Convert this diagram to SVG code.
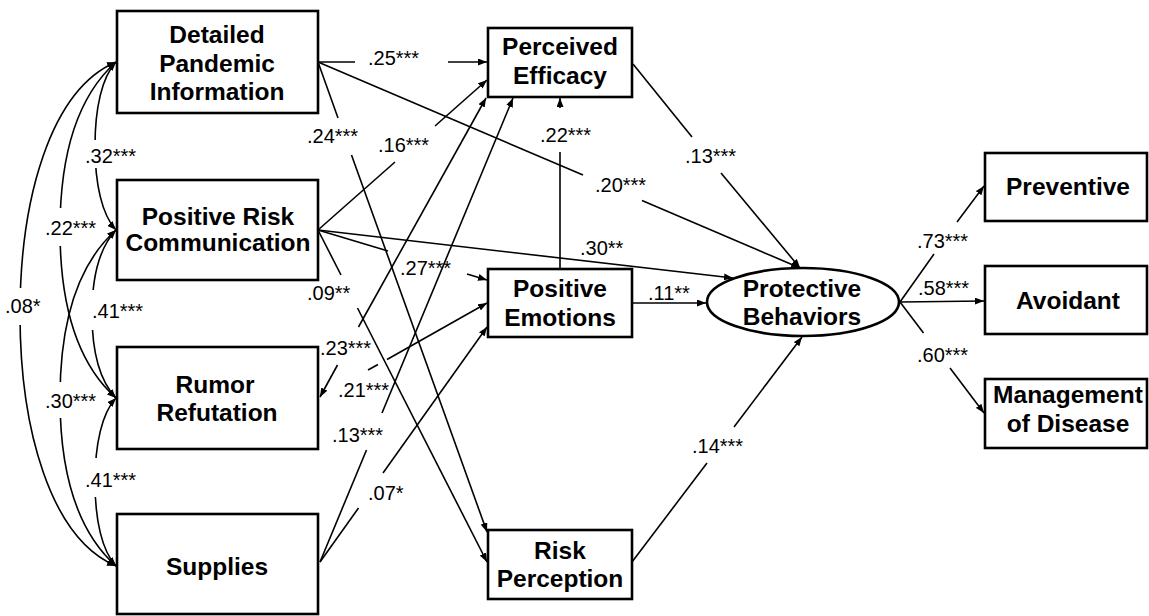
<svg xmlns="http://www.w3.org/2000/svg" width="1149" height="616" viewBox="0 0 1149 616">
<style>
.box{fill:#fff;stroke:#000;stroke-width:2.6}
.lbl{font-family:"Liberation Sans",Arial,sans-serif;font-weight:bold;font-size:24.5px;text-anchor:middle;fill:#000}
.coef{font-family:"Liberation Sans",Arial,sans-serif;font-size:20px;fill:#000}
.ln{stroke:#000;stroke-width:1.6;fill:none}
.arr{marker-end:url(#ah)}
.dbl{marker-start:url(#ahs);marker-end:url(#ah)}
.gap{fill:#fff;stroke:none}
</style>
<defs>
<marker id="ah" viewBox="0 0 9 7" refX="9" refY="3.5" markerWidth="9" markerHeight="7" markerUnits="userSpaceOnUse" orient="auto"><path d="M0,0 L9,3.5 L0,7 z" fill="#000"/></marker>
<marker id="ahs" viewBox="0 0 9 7" refX="9" refY="3.5" markerWidth="9" markerHeight="7" markerUnits="userSpaceOnUse" orient="auto-start-reverse"><path d="M0,0 L9,3.5 L0,7 z" fill="#000"/></marker>
</defs>
<rect width="1149" height="616" fill="#fff"/>
<g id="connectors">
<!-- correlation arcs -->
<path class="ln dbl" d="M116,62 C102,77 95,108 95,146 C95,184 102,215 116,230"/>
<path class="ln dbl" d="M116,62 C78,96 60,154 60,230 C60,306 78,364 116,398"/>
<path class="ln dbl" d="M116,62 C50,90 20,200 20,314 C20,428 50,538 116,566"/>
<path class="ln dbl" d="M116,230 C100,247 92,276 92,314 C92,352 100,381 116,398"/>
<path class="ln dbl" d="M116,230 C78,264 60,322 60,398 C60,474 78,532 116,566"/>
<path class="ln dbl" d="M116,398 C102,413 95,444 95,482 C95,520 102,551 116,566"/>
<rect class="gap" x="85" y="140" width="20" height="28"/>
<rect class="gap" x="50" y="208" width="22" height="38"/>
<rect class="gap" x="8" y="288" width="24" height="37"/>
<rect class="gap" x="84" y="290" width="16" height="40"/>
<rect class="gap" x="50" y="382" width="22" height="36"/>
<rect class="gap" x="86" y="458" width="18" height="39"/>
<!-- DPI paths -->
<path class="ln" d="M318,62 L355,62"/>
<path class="ln arr" d="M448,62 L487,62"/>
<path class="ln" d="M318,62 L583,175"/>
<path class="ln arr" d="M642,200.5 L800,268"/>
<path class="ln" d="M318,62 L338,118"/>
<path class="ln arr" d="M351.5,155 L487,532"/>
<!-- PRC paths -->
<path class="ln" d="M318,230 L395,162"/>
<path class="ln arr" d="M435,126 L487,80"/>
<path class="ln arr" d="M318,230 L733,278"/>
<path class="ln" d="M318,230 L388,251"/>
<path class="ln arr" d="M467,274 L487,280"/>
<path class="ln" d="M318,230 L341,275"/>
<path class="ln arr" d="M357.5,308 L487,562"/>
<!-- RR paths -->
<path class="ln arr" d="M358.5,327 L486,98"/>
<path class="ln arr" d="M337.5,365 L320,397"/>
<path class="ln" d="M368,370 L378,364.5"/>
<path class="ln arr" d="M387,359.5 L487,303"/>
<!-- Supplies paths -->
<path class="ln" d="M320,562 L366.5,450"/>
<path class="ln arr" d="M382,413 L513,98"/>
<path class="ln" d="M320,562 L358.5,508"/>
<path class="ln arr" d="M383,473 L487,327"/>
<!-- mediators to PB -->
<path class="ln" d="M633,64 L692,137"/>
<path class="ln arr" d="M721,173 L800,268"/>
<path class="ln arr" d="M632,303 L706,303"/>
<path class="ln" d="M560,269 L560,152"/>
<path class="ln arr" d="M560,108 L560,98"/>
<path class="ln" d="M632,562 L707,463"/>
<path class="ln arr" d="M734,427 L802,337"/>
<!-- PB to indicators -->
<path class="ln" d="M900,302 L934,254"/>
<path class="ln arr" d="M957,222 L984,186"/>
<path class="ln arr" d="M900,302 L984,301"/>
<path class="ln" d="M900,302 L923.5,333"/>
<path class="ln arr" d="M950,368 L984,413"/>
</g>
<g id="coefficients">
<text class="coef" x="368" y="65">.25***</text>
<text class="coef" x="307" y="143">.24***</text>
<text class="coef" x="378" y="152">.16***</text>
<text class="coef" x="540" y="142">.22***</text>
<text class="coef" x="595" y="192">.20***</text>
<text class="coef" x="580" y="255">.30**</text>
<text class="coef" x="400" y="275">.27***</text>
<text class="coef" x="307" y="300">.09**</text>
<text class="coef" x="685" y="163">.13***</text>
<text class="coef" x="648" y="300">.11**</text>
<text class="coef" x="320" y="355">.23***</text>
<text class="coef" x="338" y="397">.21***</text>
<text class="coef" x="332" y="442">.13***</text>
<text class="coef" x="368" y="500">.07*</text>
<text class="coef" x="692" y="453">.14***</text>
<text class="coef" x="917" y="248">.73***</text>
<text class="coef" x="918" y="295">.58***</text>
<text class="coef" x="917" y="362">.60***</text>
<text class="coef" x="85" y="163">.32***</text>
<text class="coef" x="45" y="235">.22***</text>
<text class="coef" x="5" y="313">.08*</text>
<text class="coef" x="92" y="318">.41***</text>
<text class="coef" x="45" y="408">.30***</text>
<text class="coef" x="85" y="487">.41***</text>
</g>
<g id="node-dpi">
<rect class="box" x="117" y="11" width="201" height="102"/>
<text class="lbl" x="217" y="43">Detailed</text>
<text class="lbl" x="217" y="71.5">Pandemic</text>
<text class="lbl" x="217" y="100">Information</text>
</g>
<g id="node-prc">
<rect class="box" x="117" y="180" width="201" height="100"/>
<text class="lbl" x="218" y="225">Positive Risk</text>
<text class="lbl" x="218" y="251">Communication</text>
</g>
<g id="node-rr">
<rect class="box" x="117" y="347" width="201" height="102"/>
<text class="lbl" x="215" y="393">Rumor</text>
<text class="lbl" x="217" y="421">Refutation</text>
</g>
<g id="node-supplies">
<rect class="box" x="117" y="514" width="201" height="100"/>
<text class="lbl" x="217" y="575">Supplies</text>
</g>
<g id="node-pe">
<rect class="box" x="488" y="28" width="144" height="69"/>
<text class="lbl" x="560" y="55">Perceived</text>
<text class="lbl" x="560" y="84">Efficacy</text>
</g>
<g id="node-pem">
<rect class="box" x="488" y="269" width="144" height="68"/>
<text class="lbl" x="560" y="297">Positive</text>
<text class="lbl" x="560" y="326">Emotions</text>
</g>
<g id="node-rp">
<rect class="box" x="488" y="530" width="144" height="69"/>
<text class="lbl" x="560" y="559">Risk</text>
<text class="lbl" x="560" y="587">Perception</text>
</g>
<g id="node-pb">
<ellipse class="box" cx="803" cy="302" rx="96" ry="34"/>
<text class="lbl" x="802" y="297">Protective</text>
<text class="lbl" x="802" y="325">Behaviors</text>
</g>
<g id="node-preventive">
<rect class="box" x="985" y="153" width="162" height="68"/>
<text class="lbl" x="1068" y="195">Preventive</text>
</g>
<g id="node-avoidant">
<rect class="box" x="985" y="266" width="162" height="68"/>
<text class="lbl" x="1068" y="309">Avoidant</text>
</g>
<g id="node-management">
<rect class="box" x="985" y="379" width="162" height="69"/>
<text class="lbl" x="1068" y="403">Management</text>
<text class="lbl" x="1068" y="432">of Disease</text>
</g>
</svg>
